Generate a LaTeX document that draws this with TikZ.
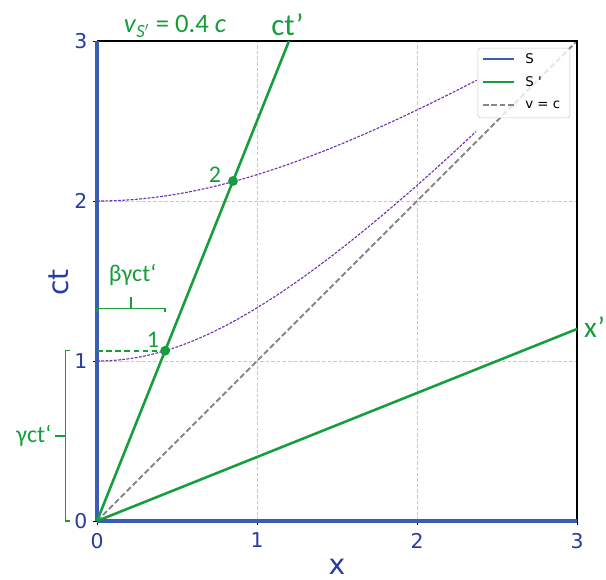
\documentclass[tikz,border=0pt]{standalone}
\usepackage{fontspec}
\setmainfont{Carlito}
\newfontfamily\djv{DejaVu Sans}
\usetikzlibrary{calc}
\definecolor{sblue}{RGB}{58,92,180}
\definecolor{tblue}{RGB}{40,60,160}
\definecolor{sgreen}{RGB}{22,158,60}
\definecolor{hpurple}{RGB}{112,48,180}
\definecolor{gridgrey}{RGB}{200,200,200}
\definecolor{cgrey}{RGB}{135,135,135}
\tikzset{
  spine/.style={sblue, line width=2.8pt},
  frame/.style={black, line width=0.8pt},
  gridline/.style={gridgrey, line width=0.6pt, dash pattern=on 2.5pt off 1.5pt},
  worldline/.style={sgreen, line width=1.8pt},
  lightline/.style={cgrey, line width=1.4pt, dash pattern=on 4pt off 2pt},
  hyper/.style={hpurple, line width=0.8pt, dash pattern=on 2pt off 1pt},
  ticklab/.style={tblue, font=\djv\fontsize{14.5}{16}\selectfont, inner sep=1pt},
  axlab/.style={tblue, font=\djv\fontsize{20}{22}\selectfont},
  glab/.style={sgreen, font=\fontsize{16}{18}\selectfont, inner sep=1pt},
  bigglab/.style={sgreen, font=\fontsize{22}{24}\selectfont, inner sep=1pt},
  legtext/.style={black, font=\djv\fontsize{9.5}{11}\selectfont, anchor=west, inner sep=0pt},
  tickmark/.style={black, line width=0.6pt},
  bracket/.style={sgreen, line width=1pt},
  event/.style={circle, fill=sgreen, inner sep=0pt, minimum size=7pt}
}
\begin{document}
\begin{tikzpicture}[x=4cm,y=4cm]
\useasboundingbox (-0.60625,-0.3625) rectangle (3.18125,3.25625);
% grid
\foreach \g in {1,2} {
  \draw[gridline] (\g,0) -- (\g,3);
  \draw[gridline] (0,\g) -- (3,\g);
}
% coordinates
\coordinate (O) at (0,0);
\coordinate (ctTop) at (1.2,3);
\coordinate (xEnd) at (3,1.2);
\coordinate (cEnd) at (3,3);
% light line
\draw[lightline] (O) -- (cEnd);
% hyperbolas
\draw[hyper] plot[domain=0:2.369, samples=80, smooth] (\x,{sqrt(1+(0.7+0.075*\x)*\x*\x)});
\draw[hyper] plot[domain=0:2.373, samples=80, smooth] (\x,{sqrt(4+(0.72-0.035*\x)*\x*\x)});
% frame
\draw[frame] (0,3) -- (3,3) -- (3,0);
% ticks
\foreach \t in {0,1,2,3} {
  \draw[tickmark] (\t,0) -- (\t,-0.025);
  \draw[tickmark] (0,\t) -- (-0.025,\t);
  \node[ticklab, anchor=north] (xt\t) at (\t,-0.065) {\t};
  \node[ticklab, anchor=east] (yt\t) at (-0.05,\t) {\t};
}
% S axes
\draw[spine] (0,0) -- (0,3);
\draw[spine] (0,0) -- (3,0);
% S' axes
\draw[worldline] (O) -- (ctTop);
\draw[worldline] (O) -- (xEnd);
% events
\node[event] (e1) at (0.4256,1.064) {};
\node[event] (e2) at (0.85,2.125) {};
\coordinate (e1axis) at (0,1.064);
\draw[sgreen, line width=1.1pt, dash pattern=on 4pt off 2.5pt] (e1axis) -- (e1);
\node[glab, font=\fontsize{17}{19}\selectfont] (l1) at (0.35,1.13) {1};
\node[glab, font=\fontsize{17}{19}\selectfont] (l2) at (0.7375,2.165) {2};
% beta gamma bracket
\coordinate (bA) at (0,1.329);
\coordinate (bB) at (0.4256,1.329);
\coordinate (bM) at (0.2128,1.329);
\draw[bracket] ($(bA)+(0,-0.022)$) -- (bA) -- (bB) -- ($(bB)+(0,-0.022)$);
\draw[bracket] (bM) -- ($(bM)+(0,0.072)$);
\node[glab, font=\fontsize{17}{19}\selectfont] (bglab) at (0.223,1.54) {βγct‘};
% gamma bracket
\coordinate (gA) at (-0.196,0);
\coordinate (gB) at (-0.196,1.064);
\coordinate (gM) at (-0.196,0.532);
\draw[bracket] ($(gA)+(0.027,0)$) -- (gA) -- (gB) -- ($(gB)+(0.027,0)$);
\draw[bracket] (gM) -- ($(gM)+(-0.066,0)$);
\node[glab, anchor=east, font=\fontsize{17}{19}\selectfont] (glab) at (-0.275,0.53) {γct‘};
% axis labels
\node[axlab, rotate=90] (ctlab) at (-0.2375,1.49) {ct};
\node[axlab, inner sep=0pt] (xlab) at (1.5,-0.285) {x};
% top labels
\node[sgreen, font=\fontsize{19}{21}\selectfont, inner sep=0pt] (vlab) at (0.4875,3.09) {\textit{v}$_{\mathit{S'}}$ = 0.4 \textit{c}};
\node[bigglab] (ctplab) at (1.19,3.10) {ct’};
\node[bigglab, font=\fontsize{21}{23}\selectfont] (xplab) at (3.11,1.215) {x’};
% legend
\node[draw=gridgrey, fill=white, fill opacity=0.8, rounded corners=2pt, minimum width=0.575*4cm, minimum height=0.437*4cm, inner sep=0pt] (legend) at (2.6685,2.7375) {};
\coordinate (lsA) at (2.4125,2.887);
\coordinate (lsB) at (2.606,2.887);
\coordinate (lgA) at (2.4125,2.746);
\coordinate (lgB) at (2.606,2.746);
\coordinate (lcA) at (2.4125,2.600);
\coordinate (lcB) at (2.606,2.600);
\draw[sblue, line width=1.6pt] (lsA) -- (lsB);
\draw[sgreen, line width=1.6pt] (lgA) -- (lgB);
\draw[cgrey, line width=1.4pt, dash pattern=on 4pt off 2pt] (lcA) -- (lcB);
\node[legtext] (ls) at (2.675,2.887) {S};
\node[legtext] (lg) at (2.675,2.746) {S '};
\node[legtext] (lc) at (2.675,2.600) {v = c};
\end{tikzpicture}
\end{document}
